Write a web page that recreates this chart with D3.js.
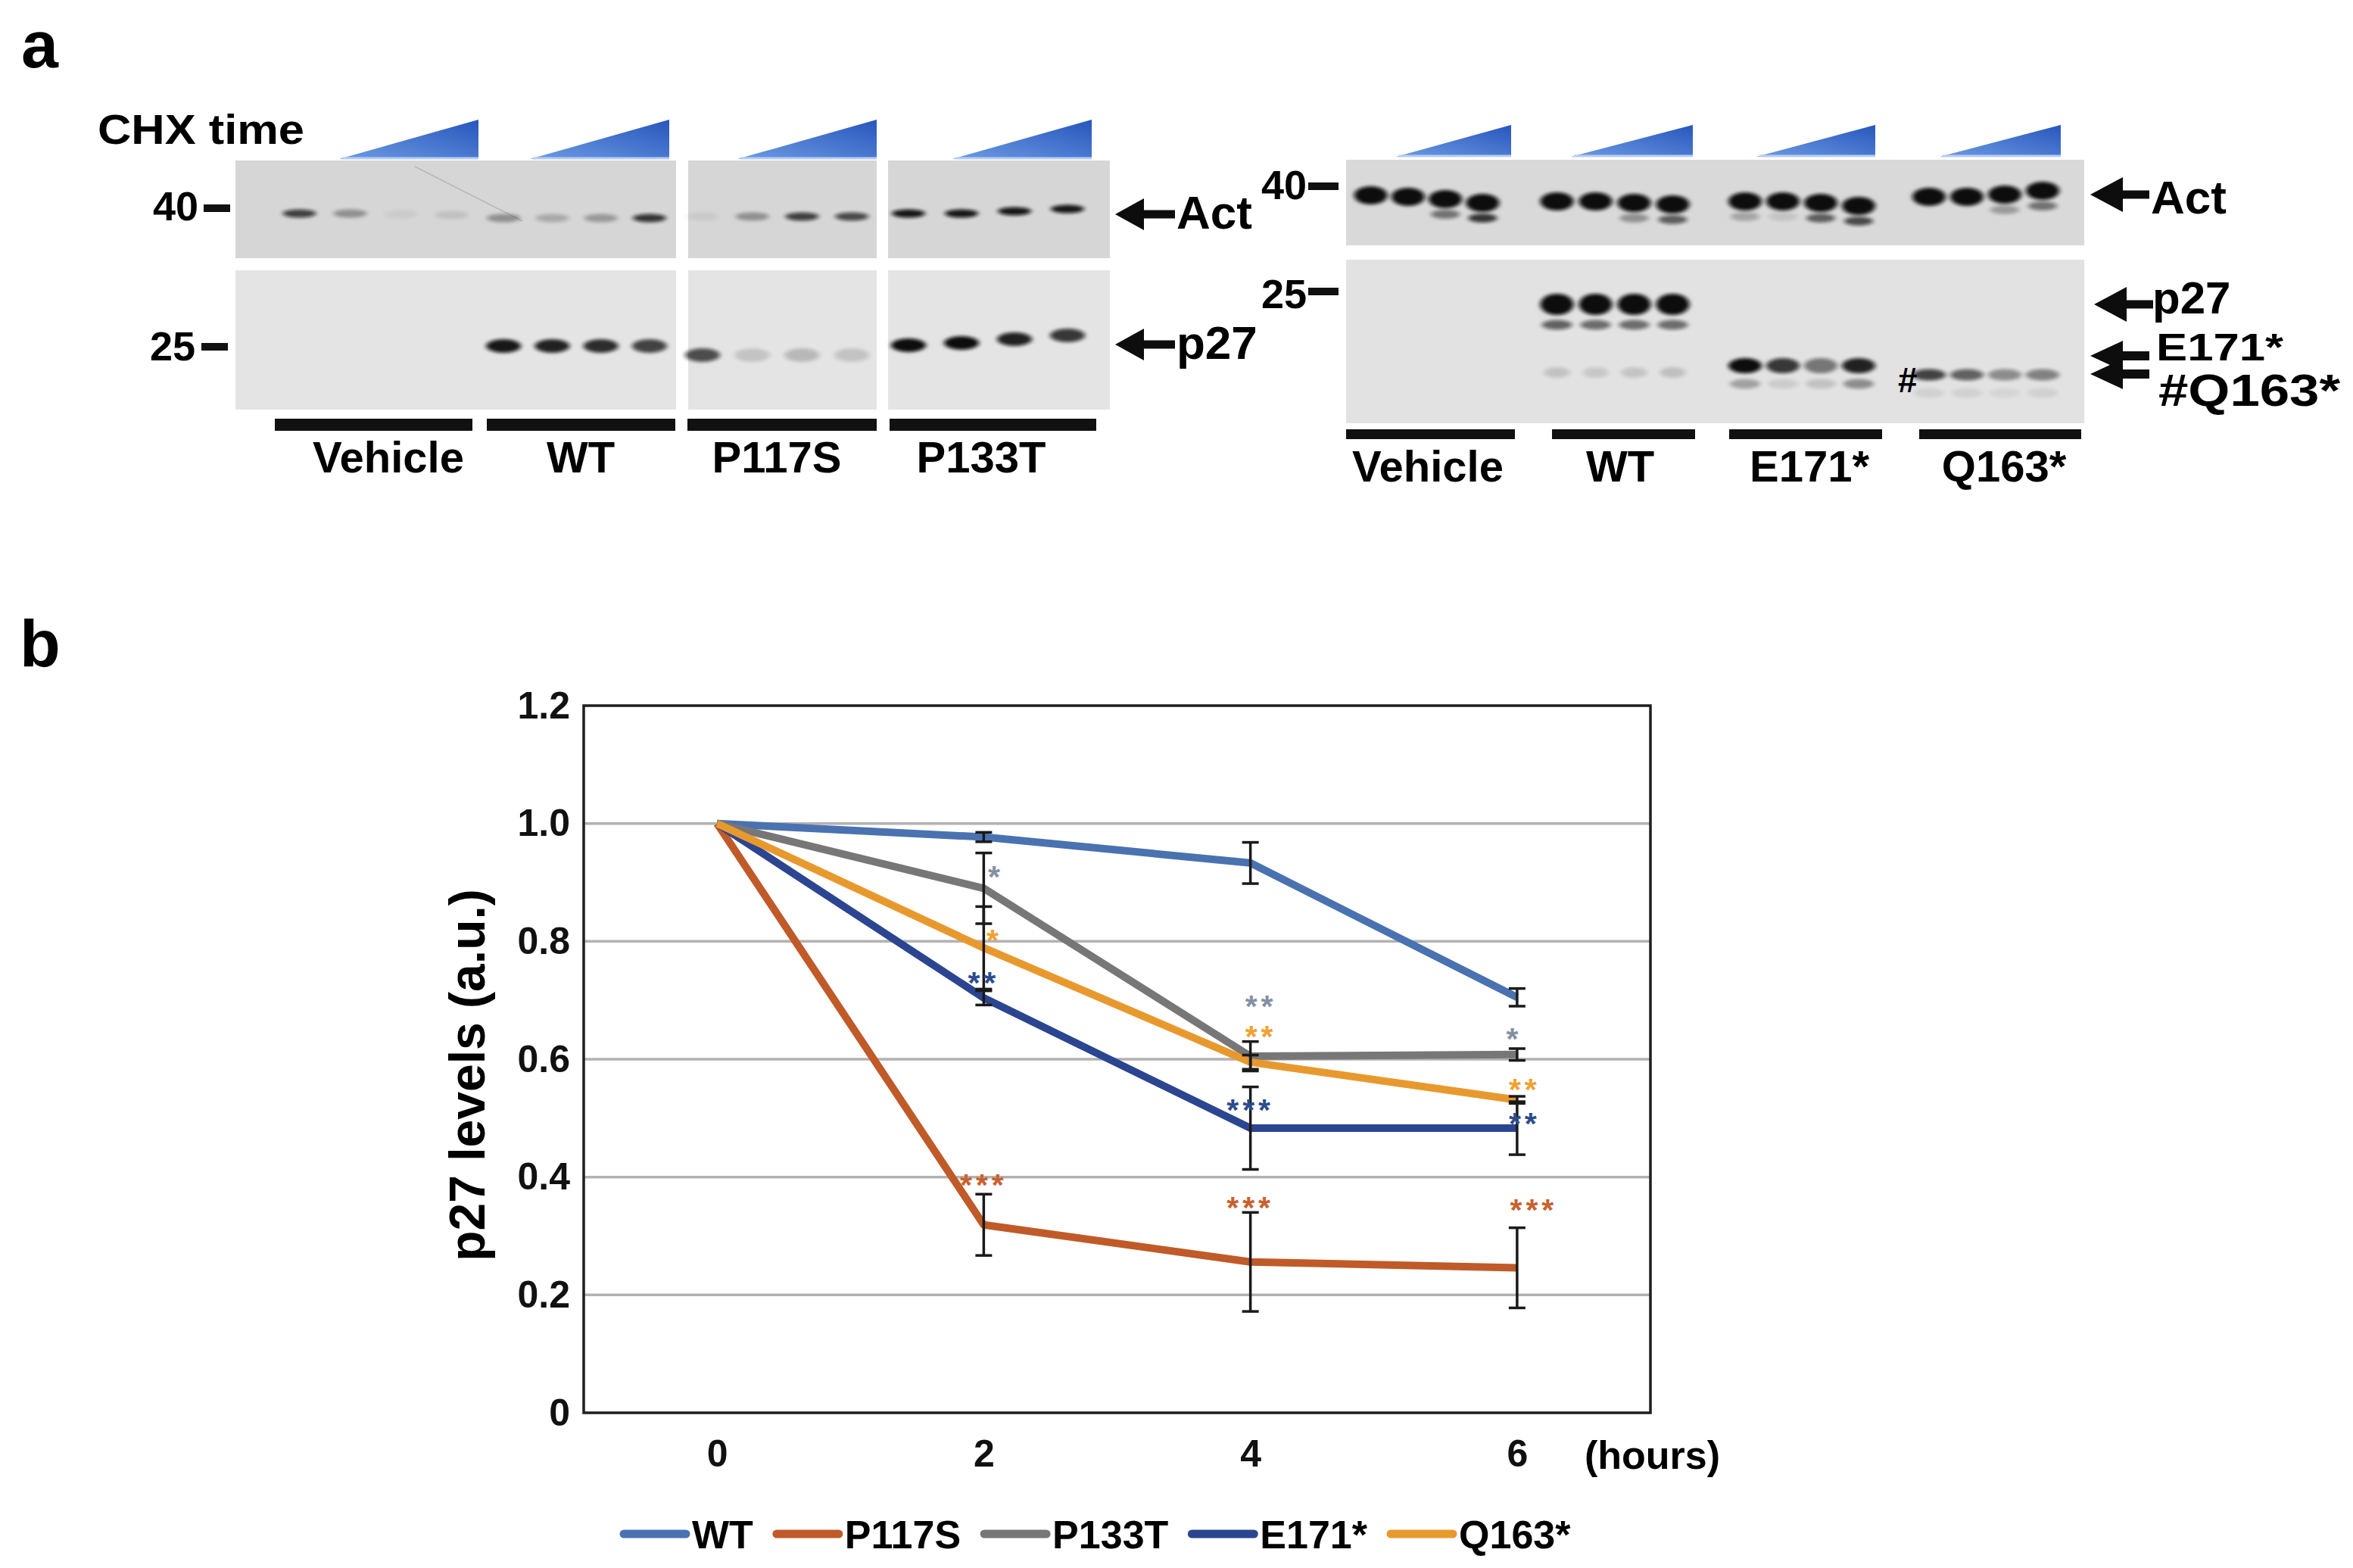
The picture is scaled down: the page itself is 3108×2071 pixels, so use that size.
<!DOCTYPE html>
<html>
<head>
<meta charset="utf-8">
<script src="https://cdnjs.cloudflare.com/ajax/libs/d3/7.8.5/d3.min.js"></script>
<style>
body { margin: 0; background: #fff; }
text { font-family: "Liberation Sans", Arial, sans-serif; font-weight: bold; }
.narrow { font-family: "Liberation Sans Narrow", "Liberation Sans", Arial, sans-serif; }
</style>
</head>
<body>
<svg id="fig"></svg>
<script>
// ---------- data: panel b ----------
const hours = [0, 2, 4, 6];
const seriesNames = ["WT", "P117S", "P133T", "E171*", "Q163*"];
const wtLevels    = [1.0, 0.977, 0.933, 0.705];
const p117sLevels = [1.0, 0.319, 0.256, 0.246];
const p133tLevels = [1.0, 0.890, 0.605, 0.608];
const e171Levels  = [1.0, 0.704, 0.483, 0.483];
const q163Levels  = [1.0, 0.789, 0.595, 0.531];
const wtErr    = [0, 0.008, 0.035, 0.015];
const p117sErr = [0, 0.052, 0.084, 0.068];
const p133tErr = [0, 0.060, 0.025, 0.010];
const e171Err  = [0, 0.012, 0.070, 0.045];
const q163Err  = [0, 0.070, 0.012, 0.006];
// significance marks, and the level each one is printed at
const p117sSig = ["", "***", "***", "***"];
const p133tSig = ["", "*", "**", "*"];
const e171Sig  = ["", "**", "***", "**"];
const q163Sig  = ["", "*", "**", "**"];
const p117sSigAt = [0, 0.400, 0.361, 0.357];
const p133tSigAt = [0, 0.922, 0.703, 0.648];
const e171SigAt  = [0, 0.742, 0.527, 0.503];
const q163SigAt  = [0, 0.815, 0.651, 0.561];
const yTicks = [0, 0.2, 0.4, 0.6, 0.8, 1.0, 1.2];
const yTickLabels = ["0", "0.2", "0.4", "0.6", "0.8", "1.0", "1.2"];

// ---------- data: panel a (band intensities, 4 CHX time points per group) ----------
const gelAGroups = ["Vehicle", "WT", "P117S", "P133T"];
const gelAAct = [[0.75, 0.35, 0.05, 0.1], [0.35, 0.22, 0.3, 0.8], [0.06, 0.35, 0.75, 0.7], [0.95, 0.95, 0.95, 0.95]];
const gelAP27 = [[0, 0, 0, 0], [0.95, 0.9, 0.85, 0.75], [0.7, 0.15, 0.2, 0.15], [1, 1, 0.9, 0.8]];
const gelBGroups = ["Vehicle", "WT", "E171*", "Q163*"];
const gelBAct = [[1, 1, 1, 1], [1, 1, 1, 1], [1, 1, 1, 1], [1, 1, 1, 1]];
const gelBActLow = [[0, 0, 0.5, 0.8], [0, 0, 0.35, 0.6], [0.25, 0.1, 0.6, 0.7], [0, 0, 0.3, 0.5]];
const gelBP27 = [[0, 0, 0, 0], [1, 1, 1, 1], [1, 0.8, 0.5, 0.9], [0.75, 0.6, 0.4, 0.45]];
const gelBP27Low = [[0, 0, 0, 0], [0.6, 0.55, 0.55, 0.55], [0.3, 0.1, 0.15, 0.4], [0.08, 0.08, 0.06, 0.08]];
const gelBP27Faint = [[0, 0, 0, 0], [0.15, 0.12, 0.14, 0.16], [0, 0, 0, 0], [0, 0, 0, 0]];

// ---------- layout ----------
const W = 3108, H = 2071;
const colors = { "WT": "#4a72b0", "P117S": "#c05a28", "P133T": "#777777", "E171*": "#2b4590", "Q163*": "#e8992e" };
const sigColors = { "P117S": "#c8612f", "P133T": "#8590a3", "E171*": "#2d4b8c", "Q163*": "#f0a232" };

const svg = d3.select("#fig").attr("width", W).attr("height", H);
svg.append("rect").attr("width", W).attr("height", H).attr("fill", "#fff");

const defs = svg.append("defs");
defs.append("filter").attr("id", "blur").attr("x", "-50%").attr("y", "-80%").attr("width", "200%").attr("height", "260%")
    .append("feGaussianBlur").attr("stdDeviation", "3 2.2");
const grad = defs.append("linearGradient").attr("id", "wedge")
    .attr("x1", 0).attr("y1", 1).attr("x2", 1).attr("y2", 0);
grad.append("stop").attr("offset", 0).attr("stop-color", "#6e9be3");
grad.append("stop").attr("offset", 1).attr("stop-color", "#2756bd");

// panel letters
svg.append("text").attr("x", 28).attr("y", 89).attr("font-size", 88).text("a");
svg.append("text").attr("x", 26).attr("y", 880).attr("font-size", 88).text("b");

// ---------- gel helpers ----------
function lanes(range) {
    return d3.scalePoint().domain(d3.range(4)).range(range).padding(0.5);
}
function drawBands(g, ranges, values, yFor, w, h) {
    values.forEach((row, i) => {
        let sc = lanes(ranges[i]);
        g.selectAll(null).data(row).enter().append("ellipse")
            .attr("cx", (d, j) => sc(j))
            .attr("cy", (d, j) => yFor(i, j))
            .attr("rx", w / 2).attr("ry", h / 2)
            .attr("fill", "#0a0a0a")
            .attr("opacity", d => d)
            .attr("filter", "url(#blur)");
    });
}
function drawWedges(g, spans, y0, y1) {
    g.selectAll(null).data(spans).enter().append("path")
        .attr("d", s => `M${s[0]},${y1}L${s[1]},${y0}L${s[1]},${y1}Z`)
        .attr("fill", "url(#wedge)");
    g.selectAll(null).data(spans).enter().append("line")
        .attr("x1", s => s[0] + 4).attr("x2", s => s[1]).attr("y1", y1 - 1).attr("y2", y1 - 1)
        .attr("stroke", "#b5cdf3").attr("stroke-width", 3);
}
function drawBars(g, spans, y0, y1) {
    g.selectAll(null).data(spans).enter().append("rect")
        .attr("x", s => s[0]).attr("width", s => s[1] - s[0])
        .attr("y", y0).attr("height", y1 - y0).attr("fill", "#111");
}
function arrow(g, tip, cy, end, headLen, half, thick) {
    g.append("path")
        .attr("d", `M${tip},${cy}L${tip + headLen},${cy - half}L${tip + headLen},${cy - thick / 2}` +
                   `L${end},${cy - thick / 2}L${end},${cy + thick / 2}L${tip + headLen},${cy + thick / 2}` +
                   `L${tip + headLen},${cy + half}Z`)
        .attr("fill", "#0d0d0d");
}
function marker(g, label, tx, base, dash) {
    g.append("text").attr("x", tx).attr("y", base).attr("text-anchor", "end")
        .attr("font-size", 54).text(label);
    g.append("rect").attr("x", dash[0]).attr("y", dash[1]).attr("width", dash[2]).attr("height", 10).attr("fill", "#111");
}

// ---------- gel A ----------
const gA = svg.append("g");
gA.append("text").attr("x", 129).attr("y", 190).attr("font-size", 56)
    .attr("textLength", 273).attr("lengthAdjust", "spacingAndGlyphs").text("CHX time");
const aPanels = [[311, 893], [909, 1158], [1173, 1466]];
const aLanes = [[362, 630], [633, 890], [895, 1158], [1165, 1445]];
gA.selectAll(null).data(aPanels).enter().append("rect")
    .attr("x", p => p[0]).attr("width", p => p[1] - p[0]).attr("y", 212).attr("height", 129).attr("fill", "#d6d6d6");
gA.selectAll(null).data(aPanels).enter().append("rect")
    .attr("x", p => p[0]).attr("width", p => p[1] - p[0]).attr("y", 357).attr("height", 184).attr("fill", "#e4e4e4");
gA.append("line").attr("x1", 548).attr("y1", 220).attr("x2", 690).attr("y2", 292)
    .attr("stroke", "#9a9a9a").attr("stroke-width", 1.5).attr("opacity", 0.5);
const aActY = [[282, 282, 283, 284], [288, 288, 288, 288], [286, 286, 286, 286], [282, 282, 279, 276]];
const aP27Y = [[457, 457, 457, 457], [457, 457, 457, 457], [469, 469, 469, 469], [456, 453, 448, 443]];
drawBands(gA, aLanes, gelAAct, (i, j) => aActY[i][j], 44, 11);
drawBands(gA, aLanes, gelAP27, (i, j) => aP27Y[i][j], 46, 18);
drawWedges(gA, [[448, 632], [700, 884], [974, 1158], [1258, 1442]], 158, 210);
drawBars(gA, [[363, 624], [643, 892], [908, 1158], [1175, 1448]], 553, 569);
const aLabelX = [513, 767, 1026, 1296];
gA.selectAll(null).data(gelAGroups).enter().append("text")
    .attr("x", (d, i) => aLabelX[i]).attr("y", 624).attr("text-anchor", "middle")
    .attr("font-size", 58).text(d => d);
marker(gA, "40", 262, 291, [269, 270, 35]);
marker(gA, "25", 258, 476, [266, 453, 35]);
arrow(gA, 1473, 283, 1552, 38, 21, 11);
arrow(gA, 1473, 455, 1552, 38, 21, 11);
gA.append("text").attr("x", 1554).attr("y", 302).attr("font-size", 62).text("Act");
gA.append("text").attr("x", 1554).attr("y", 474).attr("font-size", 62).text("p27");

// ---------- gel B ----------
const gB = svg.append("g");
const bLanes = [[1786, 1983], [2031, 2235], [2280, 2480], [2523, 2723]];
gB.append("rect").attr("x", 1778).attr("width", 975).attr("y", 211).attr("height", 113).attr("fill", "#d9d9d9");
gB.append("rect").attr("x", 1778).attr("width", 975).attr("y", 343).attr("height", 216).attr("fill", "#e2e2e2");
const bActY = [[258, 260, 263, 268], [266, 266, 268, 270], [266, 266, 268, 272], [260, 260, 257, 252]];
drawBands(gB, bLanes, gelBActLow, (i, j) => bActY[i][j] + 20, 38, 12);
drawBands(gB, bLanes, gelBAct, (i, j) => bActY[i][j], 44, 24);
const bP27Y = [402, 402, 483, 495];
const bP27H = [14, 28, 20, 15];
drawBands(gB, bLanes, gelBP27Faint, (i, j) => bP27Y[i] + 90, 34, 14);
drawBands(gB, bLanes, gelBP27Low, (i, j) => bP27Y[i] + (i === 1 ? 27 : 24), 40, 13);
gelBP27.forEach((row, i) => {
    drawBands(gB, [bLanes[i]], [row], () => bP27Y[i], 44, bP27H[i]);
});
drawWedges(gB, [[1844, 1996], [2075, 2236], [2320, 2477], [2562, 2722]], 165, 207);
drawBars(gB, [[1778, 2001], [2050, 2239], [2284, 2486], [2535, 2749]], 567, 580);
const bLabelX = [1886, 2140, 2390, 2647];
gB.selectAll(null).data(gelBGroups).enter().append("text")
    .attr("x", (d, i) => bLabelX[i]).attr("y", 636).attr("text-anchor", "middle")
    .attr("font-size", 58).text(d => d);
marker(gB, "40", 1726, 263, [1728, 241, 40]);
marker(gB, "25", 1726, 407, [1728, 380, 40]);
gB.append("text").attr("x", 2507).attr("y", 518).attr("font-size", 46).attr("font-weight", "normal").text("#");
arrow(gB, 2761, 257, 2839, 43, 23, 11);
arrow(gB, 2766, 402, 2844, 43, 23, 11);
arrow(gB, 2761, 470, 2839, 43, 20, 12);
arrow(gB, 2761, 494, 2839, 43, 20, 12);
gB.append("text").attr("x", 2841).attr("y", 282).attr("font-size", 62).text("Act");
gB.append("text").attr("x", 2843).attr("y", 414).attr("font-size", 60).text("p27");
gB.append("text").attr("x", 2848).attr("y", 476).attr("font-size", 50)
    .attr("textLength", 168).attr("lengthAdjust", "spacingAndGlyphs").text("E171*");
gB.append("text").attr("x", 2851).attr("y", 536).attr("font-size", 60)
    .attr("textLength", 240).attr("lengthAdjust", "spacingAndGlyphs").text("#Q163*");

// ---------- panel b: line chart ----------
const x = d3.scaleLinear().domain([-1, 7]).range([771, 2180]);
const y = d3.scaleLinear().domain([0, 1.2]).range([1866, 932]);

const levels = [wtLevels, p117sLevels, p133tLevels, e171Levels, q163Levels];
const errs = [wtErr, p117sErr, p133tErr, e171Err, q163Err];
const sigs = [null, p117sSig, p133tSig, e171Sig, q163Sig];
const sigAt = [null, p117sSigAt, p133tSigAt, e171SigAt, q163SigAt];
const sigDx = [null, [0, 0, 0, 22], [0, 16, 14, -4], [0, 0, 0, 10], [0, 14, 14, 10]];

const series = seriesNames.map((name, k) => ({
    name: name,
    points: hours.map((h, i) => ({ h: h, v: levels[k][i], e: errs[k][i] }))
}));

const gc = svg.append("g");
gc.selectAll(null).data(yTicks.slice(1, -1)).enter().append("line")
    .attr("x1", x(-1)).attr("x2", x(7)).attr("y1", d => y(d)).attr("y2", d => y(d))
    .attr("stroke", "#b2b2b2").attr("stroke-width", 3.5);
gc.append("rect").attr("x", x(-1)).attr("y", y(1.2)).attr("width", x(7) - x(-1)).attr("height", y(0) - y(1.2))
    .attr("fill", "none").attr("stroke", "#1e1e1e").attr("stroke-width", 3.5);

const yAxis = d3.axisLeft(y).tickValues(yTicks).tickFormat((d, i) => yTickLabels[i]).tickSize(0).tickPadding(18);
const yg = gc.append("g").attr("transform", `translate(${x(-1)},0)`).call(yAxis);
const xAxis = d3.axisBottom(x).tickValues(hours).tickFormat(d3.format("d")).tickSize(0).tickPadding(35);
const xg = gc.append("g").attr("transform", `translate(0,${y(0)})`).call(xAxis);
[yg, xg].forEach(a => {
    a.select(".domain").remove();
    a.selectAll("text").attr("class", "narrow").attr("font-size", 50).attr("fill", "#111");
});
gc.append("text").attr("x", 2093).attr("y", 1940).attr("font-size", 52).attr("class", "narrow").text("(hours)");
gc.append("text").attr("transform", `translate(640,1420) rotate(-90)`).attr("text-anchor", "middle")
    .attr("font-size", 66).text("p27 levels (a.u.)");

const line = d3.line().x(d => x(d.h)).y(d => y(d.v));
gc.selectAll(".series").data(series).enter().append("path")
    .attr("class", "series")
    .attr("d", d => line(d.points))
    .attr("fill", "none").attr("stroke", d => colors[d.name])
    .attr("stroke-width", 10).attr("stroke-linejoin", "round");

// error bars
series.forEach(s => {
    const pts = s.points.filter(p => p.e > 0);
    const eg = gc.append("g").attr("stroke", "#1a1a1a").attr("stroke-width", 3.5);
    eg.selectAll(null).data(pts).enter().append("line")
        .attr("x1", p => x(p.h)).attr("x2", p => x(p.h))
        .attr("y1", p => y(p.v + p.e)).attr("y2", p => y(p.v - p.e));
    [1, -1].forEach(sgn => {
        eg.selectAll(null).data(pts).enter().append("line")
            .attr("x1", p => x(p.h) - 11).attr("x2", p => x(p.h) + 11)
            .attr("y1", p => y(p.v + sgn * p.e)).attr("y2", p => y(p.v + sgn * p.e));
    });
});

// significance asterisks
seriesNames.forEach((name, k) => {
    if (!sigs[k]) return;
    const marks = hours.map((h, i) => ({ h: h, text: sigs[k][i], at: sigAt[k][i], dx: sigDx[k][i] }))
        .filter(m => m.text !== "");
    gc.selectAll(null).data(marks).enter().append("text")
        .attr("x", m => x(m.h) + m.dx)
        .attr("y", m => y(m.at) + 24)
        .attr("text-anchor", "middle")
        .attr("font-size", 41).attr("letter-spacing", 5)
        .attr("fill", sigColors[name])
        .text(m => m.text);
});

// legend
const lg = gc.append("g").attr("transform", "translate(0,2026)");
let lx = 819;
seriesNames.forEach(name => {
    lg.append("line").attr("x1", lx + 5).attr("x2", lx + 87).attr("y1", 0).attr("y2", 0)
        .attr("stroke", colors[name]).attr("stroke-width", 11).attr("stroke-linecap", "round");
    const t = lg.append("text").attr("x", lx + 95).attr("y", 19).attr("font-size", 52).attr("class", "narrow").text(name);
    lx += 95 + t.node().getComputedTextLength() + 26;
});
</script>
</body>
</html>
